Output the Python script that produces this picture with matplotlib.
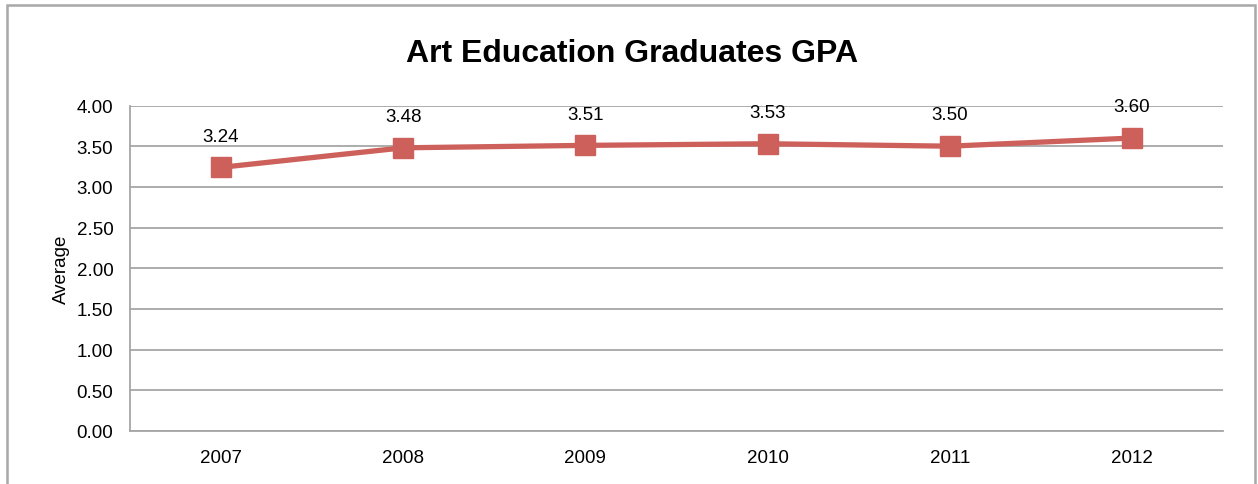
import matplotlib.pyplot as plt
from matplotlib.patches import Rectangle

plt.rcParams["font.family"] = ["Liberation Sans", "DejaVu Sans"]

years = ["2007", "2008", "2009", "2010", "2011", "2012"]
gpa = [3.24, 3.48, 3.51, 3.53, 3.50, 3.60]

line_color = "#CD605B"
grid_color = "#A6A6A6"

fig = plt.figure(figsize=(12.58, 4.85), dpi=100, facecolor="white")
ax = fig.add_axes([130 / 1258, 1 - 432 / 485, (1223 - 130) / 1258, (432 - 106.5) / 485])

x = range(len(years))
ax.plot(x, gpa, color=line_color, linewidth=3.8, marker="s", markersize=15,
        markerfacecolor=line_color, markeredgecolor=line_color, zorder=3)

for xi, v in zip(x, gpa):
    ax.annotate(f"{v:.2f}", (xi, v), xytext=(0, 22.5), textcoords="offset points",
                ha="center", va="center", fontsize=13.5, color="black")

ax.set_xlim(-0.5, len(years) - 0.5)
ax.set_ylim(0, 4)
ax.set_yticks([i * 0.5 for i in range(9)])
ax.set_yticklabels([f"{i * 0.5:.2f}" for i in range(9)])
ax.set_xticks(list(x))
ax.set_xticklabels(years)
ax.tick_params(axis="both", length=0, labelsize=13.5)
ax.tick_params(axis="x", pad=13)
ax.tick_params(axis="y", pad=12)

ax.grid(axis="y", color=grid_color, linewidth=1.3)
ax.set_axisbelow(True)
for side in ["top", "right"]:
    ax.spines[side].set_visible(False)
for side in ["left", "bottom"]:
    ax.spines[side].set_color(grid_color)
    ax.spines[side].set_linewidth(1.3)

ax.set_ylabel("Average", fontsize=13.5, labelpad=5)
fig.text(632 / 1258, 1 - 54 / 485, "Art Education Graduates GPA", ha="center", va="center",
         fontsize=23, fontweight="bold")

# chart frame
fig.patches.append(Rectangle((7 / 1258, -0.05), (1255 - 7) / 1258, 1 - 6 / 485 + 0.05,
                             transform=fig.transFigure, fill=False,
                             edgecolor="#A8A8A8", linewidth=1.8))

fig.savefig("out.png", dpi=100)
